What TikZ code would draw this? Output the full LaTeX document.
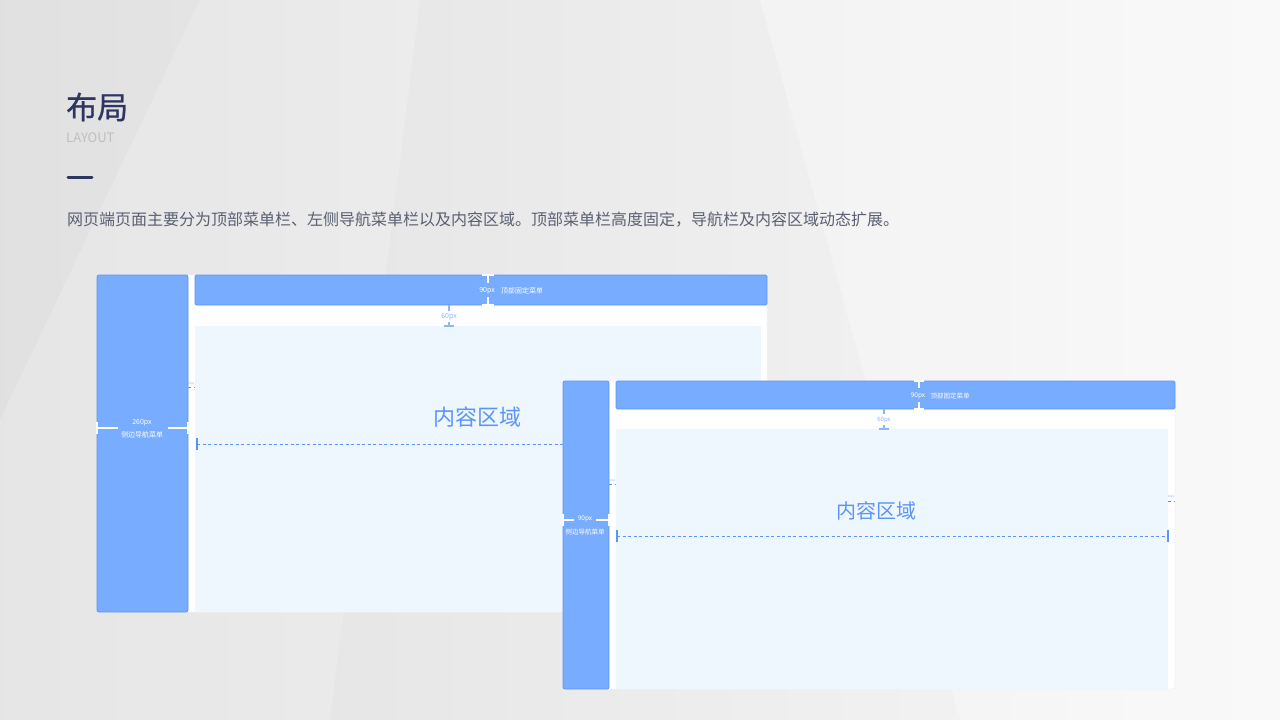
\documentclass[tikz,border=0pt]{standalone}
\usepackage{fontspec}
\setmainfont{Noto Sans CJK SC}
\newfontfamily\headfont{Noto Sans CJK SC}[FakeBold=0.8]
\usepackage{xcolor}
\usetikzlibrary{positioning}

\definecolor{navy}{HTML}{2D3561}
\definecolor{bodygray}{HTML}{5A6072}
\definecolor{sideblue}{HTML}{78ACFF}
\definecolor{sideedge}{HTML}{5E95F7}
\definecolor{areablue}{HTML}{EEF6FE}
\definecolor{textblue}{HTML}{5D94F8}
\definecolor{dimblue}{HTML}{8FB6FB}

\tikzset{
  panel/.style={fill=white, draw=black!5, line width=0.5pt, rounded corners=3pt},
  sidebar/.style={fill=sideblue, draw=sideedge, line width=0.8pt, rounded corners=2pt},
  topbar/.style={fill=sideblue, draw=sideedge, line width=0.8pt, rounded corners=1.5pt},
  area/.style={fill=areablue},
  dimw/.style={draw=white, line width=1.1pt},
  dimb/.style={draw=dimblue, line width=1.1pt},
  dashb/.style={draw=textblue, line width=0.9pt, dash pattern=on 3pt off 2.5pt},
  tag/.style={text=white, font=\fontsize{7}{8}\selectfont, inner sep=1pt},
  btag/.style={text=dimblue, font=\fontsize{7}{8}\selectfont, inner sep=1pt},
  bigtag/.style={text=textblue, inner sep=0pt}
}

\begin{document}
\begin{tikzpicture}[x=1pt,y=-1pt]
 \useasboundingbox (0,0) rectangle (1280,720);
 % background with soft light
 \shade[left color=black!12, right color=black!3] (0,0) rectangle (1280,720);
 \fill[white,opacity=0.18] (200,0)--(420,0)--(330,720)--(0,720)--(0,420)--cycle;
 \fill[white,opacity=0.3] (760,0)--(1280,0)--(1280,720)--(960,720)--cycle;

 % heading
 \node[anchor=west, text=navy, font=\headfont\fontsize{31}{33}\selectfont, inner sep=0pt] (title) at (66,107) {布局};
 \node[anchor=west, text=black!25, font=\fontsize{13}{14}\selectfont, inner sep=0pt] (sub) at (66,138) {LAYOUT};
 \draw[navy, line width=3pt, line cap=round] (68,177) -- (92,177);
 \node[anchor=west, text=bodygray, font=\fontsize{16}{17}\selectfont, inner sep=0pt] (intro) at (67,220)
   {网页端页面主要分为顶部菜单栏、左侧导航菜单栏以及内容区域。顶部菜单栏高度固定，导航栏及内容区域动态扩展。};

 % ---- first screen ----
 \path[panel] (97,275) rectangle (767,612);
 \fill[area] (195,326) rectangle (761,612);
 \path[sidebar] (97,275) rectangle (188,612);
 \path[topbar] (195,275) rectangle (767,305);
 \node[bigtag, font=\fontsize{22}{24}\selectfont] (main1) at (477,417) {内容区域};
 % sidebar width
 \coordinate (s1l) at (97,428);
 \coordinate (s1r) at (188,428);
 \node[tag] (w1) at (142,423) {260px};
 \node[tag] (side1) at (142,435) {侧边导航菜单};
 \draw[dimw] (s1l) -- ++(21,0) (s1r) -- ++(-20,0);
 \draw[dimw] ([yshift=-6pt]s1l) -- ([yshift=6pt]s1l) ([yshift=-6pt]s1r) -- ([yshift=6pt]s1r);
 % top bar height
 \coordinate (t1a) at (488,275);
 \coordinate (t1b) at (488,305);
 \node[tag] (h1) at (487,291) {90px};
 \node[tag] (top1) at (522,291) {顶部固定菜单};
 \draw[dimw] (t1a) -- ++(0,8) (t1b) -- ++(0,-8);
 \draw[dimw] ([xshift=-6pt]t1a) -- ([xshift=6pt]t1a) ([xshift=-6pt]t1b) -- ([xshift=6pt]t1b);
 % gap
 \coordinate (g1a) at (449,305);
 \coordinate (g1b) at (449,326);
 \node[btag] (gap1) at (449,317) {60px};
 \draw[dimb] (g1a) -- ++(0,6) (g1b) -- ++(0,-4);
 \draw[dimb] ([xshift=-5pt]g1b) -- ([xshift=5pt]g1b);
 \draw[dashb] (188,387) -- (195,387);
 \node[btag, font=\fontsize{3}{3}\selectfont] (n1) at (191,384) {20px};
 % content width
 \coordinate (c1l) at (197,444);
 \coordinate (c1r) at (563,444);
 \draw[dashb] (c1l) -- (c1r);
 \draw[textblue, line width=2pt] ([yshift=-6pt]c1l) -- ([yshift=6pt]c1l);

 % ---- second screen ----
 \path[panel] (563,381) rectangle (1175,689);
 \fill[area] (616,429) rectangle (1168,689);
 \path[sidebar] (563,381) rectangle (609,689);
 \path[topbar] (616,381) rectangle (1175,409);
 \node[bigtag, font=\fontsize{20}{22}\selectfont] (main2) at (876,511) {内容区域};
 % sidebar width
 \coordinate (s2l) at (563,520);
 \coordinate (s2r) at (609,520);
 \node[tag, font=\fontsize{6.5}{7}\selectfont] (w2) at (585,519) {90px};
 \node[tag, font=\fontsize{6.5}{7}\selectfont] (side2) at (585,532) {侧边导航菜单};
 \draw[dimw] (s2l) -- ++(11,0) (s2r) -- ++(-13,0);
 \draw[dimw] ([yshift=-6pt]s2l) -- ([yshift=6pt]s2l) ([yshift=-6pt]s2r) -- ([yshift=6pt]s2r);
 % top bar height
 \coordinate (t2a) at (919,381);
 \coordinate (t2b) at (919,409);
 \node[tag, font=\fontsize{6.5}{7}\selectfont] (h2) at (918,396) {90px};
 \node[tag, font=\fontsize{6.5}{7}\selectfont] (top2) at (950,396) {顶部固定菜单};
 \draw[dimw] (t2a) -- ++(0,7) (t2b) -- ++(0,-7);
 \draw[dimw] ([xshift=-5pt]t2a) -- ([xshift=5pt]t2a) ([xshift=-5pt]t2b) -- ([xshift=5pt]t2b);
 % gap
 \coordinate (g2a) at (884,409);
 \coordinate (g2b) at (884,429);
 \node[btag, font=\fontsize{6}{7}\selectfont] (gap2) at (884,420) {60px};
 \draw[dimb] (g2a) -- ++(0,5) (g2b) -- ++(0,-4);
 \draw[dimb] ([xshift=-5pt]g2b) -- ([xshift=5pt]g2b);
 \draw[dashb] (609,484) -- (616,484);
 \node[btag, font=\fontsize{3}{3}\selectfont] (n2) at (612,481) {20px};
 \draw[dashb] (1168,501) -- (1175,501);
 \node[btag, font=\fontsize{3}{3}\selectfont] (n3) at (1171,497) {20px};
 % content width
 \coordinate (c2l) at (617,536);
 \coordinate (c2r) at (1168,536);
 \draw[dashb] (c2l) -- (c2r);
 \draw[textblue, line width=2pt] ([yshift=-6pt]c2l) -- ([yshift=6pt]c2l) ([yshift=-6pt]c2r) -- ([yshift=6pt]c2r);
\end{tikzpicture}
\end{document}
